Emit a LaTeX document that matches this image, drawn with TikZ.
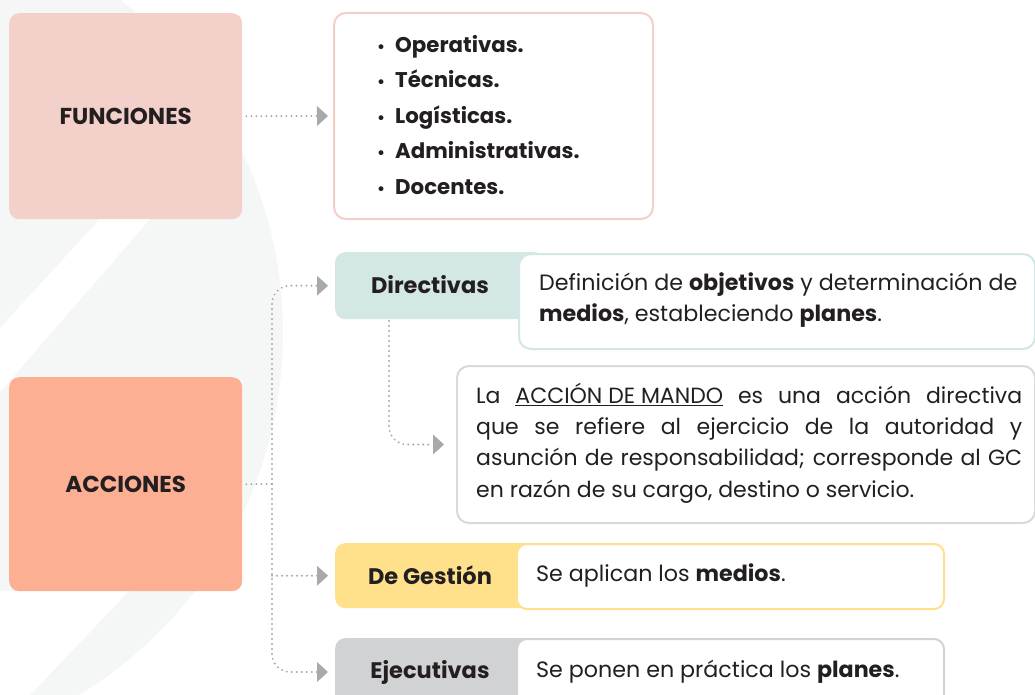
\documentclass[tikz,border=0pt]{standalone}
\usepackage{fontspec}
\setmainfont{Poppins}
\usetikzlibrary{arrows.meta}
\definecolor{ink}{HTML}{231F20}
\definecolor{funcfill}{HTML}{F3D0CA}
\definecolor{funcline}{HTML}{F3CFC8}
\definecolor{accfill}{HTML}{FDAF94}
\definecolor{tealfill}{HTML}{D3E7E5}
\definecolor{yellowfill}{HTML}{FFE08B}
\definecolor{grayfill}{HTML}{D1D2D4}
\definecolor{boxline}{HTML}{D9D9D9}
\definecolor{arrowgray}{HTML}{A7A9AC}
\definecolor{bgfaint}{HTML}{F5F7F7}
\tikzset{
  blk/.style={rectangle, rounded corners=10pt, inner sep=0pt, anchor=north west},
  card/.style={blk, fill=white, line width=2pt},
  bigtitle/.style={font=\fontsize{23}{26}\selectfont\bfseries, text=ink},
  hlabel/.style={font=\fontsize{22.5}{26}\selectfont\bfseries, text=ink, inner sep=0pt},
  body/.style={font=\fontsize{22.2}{31}\selectfont, text=ink, inner sep=0pt, align=left},
  conn/.style={draw=arrowgray, line width=2.1pt, dash pattern=on 0pt off 5pt, line cap=round,
    -{Triangle[length=11pt,width=20pt,fill=arrowgray,line width=0pt]}},
  plain/.style={draw=arrowgray, line width=2.1pt, dash pattern=on 0pt off 5pt, line cap=round},
}
\begin{document}
\begin{tikzpicture}[x=1pt,y=-1pt]
\useasboundingbox (0,0) rectangle (1035,695);
\clip (0,0) rectangle (1035,695);
% faint background decoration
\fill[bgfaint] (-140,333) circle (423);
\fill[white] (100,219) -- (150,219) -- (0,392) -- (0,328) -- cycle;
\fill[white] (0,591) -- (129,591) -- (30,695) -- (0,695) -- cycle;

% FUNCIONES
\node[blk, fill=funcfill, minimum width=233pt, minimum height=206pt, bigtitle] (func) at (9,13) {FUNCIONES};
\node[card, draw=funcline, rounded corners=12pt, minimum width=319pt, minimum height=206pt] (list) at (333,12) {};
\node[anchor=west, align=left, inner sep=0pt, text=ink, font=\fontsize{21.3}{35.5}\selectfont\bfseries] (bul) at (377,115)
  {\makebox[18pt][l]{\fontsize{16}{16}\selectfont•}Operativas.\\\makebox[18pt][l]{\fontsize{16}{16}\selectfont•}Técnicas.\\\makebox[18pt][l]{\fontsize{16}{16}\selectfont•}Logísticas.\\\makebox[18pt][l]{\fontsize{16}{16}\selectfont•}Administrativas.\\\makebox[18pt][l]{\fontsize{16}{16}\selectfont•}Docentes.};
\draw[conn] ([xshift=4pt]func.east) -- ([xshift=-5pt]list.west);

% ACCIONES
\node[blk, fill=accfill, minimum width=233pt, minimum height=214pt, bigtitle] (acc) at (9,377) {ACCIONES};

% Directivas
\node[blk, fill=tealfill, minimum width=210pt, minimum height=67pt] (dirh) at (335,252) {};
\node[hlabel] (dirlbl) at (430,285) {Directivas};
\node[card, draw=tealfill, rounded corners=12pt, minimum width=516pt, minimum height=95pt] (dird) at (518,253) {};
\node[body, anchor=west] (dirtxt) at (539,300.5) {Definición de \textbf{objetivos} y determinación de\\\textbf{medios}, estableciendo \textbf{planes}.};

% Accion de mando
\node[card, draw=boxline, rounded corners=12pt, minimum width=578pt, minimum height=157pt] (mando) at (456,365) {};
\node[body, anchor=west, font=\fontsize{22}{31.3}\selectfont] (mandotxt) at (476,443)
  {\makebox[546pt][s]{La \underline{ACCIÓN DE MANDO} es una acción directiva}\\
   \makebox[546pt][s]{que se refiere al ejercicio de la autoridad y}\\
   \makebox[546pt][s]{asunción de responsabilidad; corresponde al GC}\\
   en razón de su cargo, destino o servicio.};
\coordinate (dirdrop) at (389,321);
\draw[conn, rounded corners=18pt] (dirdrop) |- ([xshift=-12pt]mando.west);

% De Gestion
\node[blk, fill=yellowfill, minimum width=265pt, minimum height=65pt] (gesh) at (335,543) {};
\node[hlabel] (geslbl) at (430,575) {De Gestión};
\node[card, draw=yellowfill, minimum width=427pt, minimum height=65pt] (gesd) at (516,543) {};
\node[body, anchor=west] (gestxt) at (536,575) {Se aplican los \textbf{medios}.};

% Ejecutivas
\node[blk, fill=grayfill, minimum width=265pt, minimum height=72pt] (ejeh) at (335,638) {};
\node[hlabel] (ejelbl) at (430,672) {Ejecutivas};
\node[card, draw=grayfill, minimum width=427pt, minimum height=72pt] (ejed) at (516,638) {};
\node[body, anchor=west] (ejetxt) at (536,672) {Se ponen en práctica los \textbf{planes}.};
\coordinate (ejein) at (328,672);

% trunk connectors from ACCIONES
\coordinate (trunk) at (272,484);
\draw[plain] ([xshift=4pt]acc.east) -- (trunk);
\draw[conn, rounded corners=18pt] (trunk) |- ([xshift=-7pt]dirh.west);
\draw[conn] (trunk |- gesh.west) -- ([xshift=-7pt]gesh.west);
\draw[conn, rounded corners=18pt] (trunk) |- (ejein);
\end{tikzpicture}
\end{document}
